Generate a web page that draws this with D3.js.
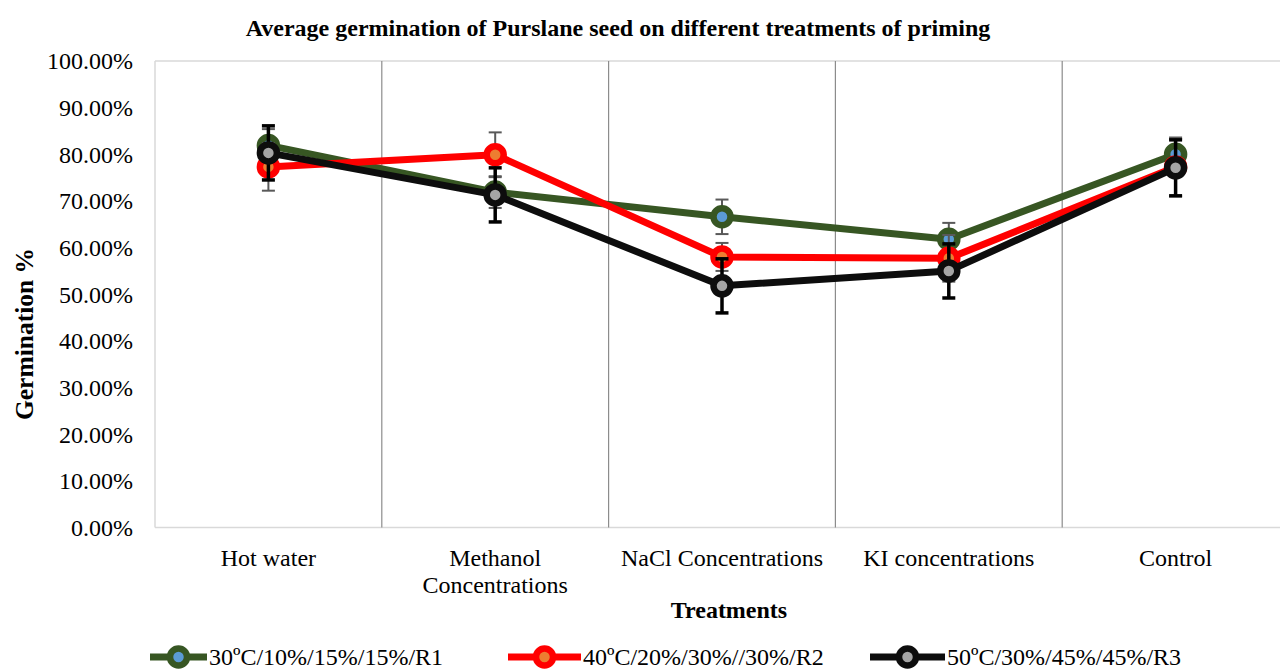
<!DOCTYPE html>
<html><head><meta charset="utf-8">
<script src="https://cdn.jsdelivr.net/npm/d3@7"></script>
<style>body{margin:0;background:#fff}svg{display:block}text{font-family:"Liberation Serif","Times New Roman",serif;fill:#000}</style>
</head><body>
<svg id="c" width="1280" height="669"></svg>
<script>
const categories = ["Hot water", "Methanol Concentrations", "NaCl Concentrations", "KI concentrations", "Control"];
const categoryLines = [["Hot water"], ["Methanol", "Concentrations"], ["NaCl Concentrations"], ["KI concentrations"], ["Control"]];
const seriesNames = ["30ºC/10%/15%/15%/R1", "40ºC/20%/30%//30%/R2", "50ºC/30%/45%/45%/R3"];
const valuesR1 = [81.9, 71.9, 66.6, 61.8, 80.0];
const valuesR2 = [77.3, 79.9, 58.0, 57.7, 77.3];
const valuesR3 = [80.3, 71.3, 51.8, 55.0, 77.1];
const errorsR1 = [3.5, 3.4, 3.7, 3.5, 3.2];
const errorsR2 = [5.1, 4.8, 3.0, 5.0, 6.3];
const errorsR3 = [5.8, 5.8, 5.8, 5.8, 6.0];
const yTicks = [0, 10, 20, 30, 40, 50, 60, 70, 80, 90, 100];

const lineColors = ["#375623", "#ff0000", "#0d0d0d"];
const dotColors = ["#5b9bd5", "#ed7d31", "#a5a5a5"];
const errColors = ["#595959", "#595959", "#000000"];
const errWidths = [2, 2, 3.5];

const series = [valuesR1, valuesR2, valuesR3].map((v, i) => ({
  name: seriesNames[i], values: v, errors: [errorsR1, errorsR2, errorsR3][i]
}));

const svg = d3.select("#c");
const L = 155, R = 1289, T = 61, B = 527.5;
const x = d3.scaleBand().domain(categories).range([L, R]);
const y = d3.scaleLinear().domain([0, 100]).range([B, T]);

// plot border
svg.append("line").attr("x1", L).attr("x2", 1280).attr("y1", T).attr("y2", T).attr("stroke", "#d9d9d9").attr("stroke-width", 1.5);
svg.append("line").attr("x1", L).attr("x2", L).attr("y1", T).attr("y2", B).attr("stroke", "#d9d9d9").attr("stroke-width", 1.5);
svg.append("line").attr("x1", L).attr("x2", 1280).attr("y1", B).attr("y2", B).attr("stroke", "#d9d9d9").attr("stroke-width", 1.5);

// vertical separators
categories.slice(1).forEach(c => {
  svg.append("line").attr("x1", x(c)).attr("x2", x(c)).attr("y1", T).attr("y2", B)
    .attr("stroke", "#8c8c8c").attr("stroke-width", 1.2);
});

// y axis labels
svg.append("g").selectAll("text").data(yTicks).join("text")
  .attr("x", 133).attr("y", d => y(d)).attr("dy", "0.35em")
  .attr("text-anchor", "end").style("font-size", "24px")
  .text(d => d3.format(".2f")(d) + "%");

// category labels
categoryLines.forEach((lines, i) => {
  const cx = x(categories[i]) + x.bandwidth() / 2;
  lines.forEach((t, j) => {
    svg.append("text").attr("x", cx).attr("y", 566 + j * 27).attr("text-anchor", "middle")
      .style("font-size", "24px").text(t);
  });
});

// titles
svg.append("text").attr("x", 618).attr("y", 36).attr("text-anchor", "middle")
  .style("font-size", "24px").style("font-weight", "bold")
  .text("Average germination of Purslane seed on different treatments of priming");
svg.append("text").attr("x", 729).attr("y", 618).attr("text-anchor", "middle")
  .style("font-size", "24px").style("font-weight", "bold").text("Treatments");
svg.append("text").attr("transform", "translate(33,334) rotate(-90)").attr("text-anchor", "middle")
  .style("font-size", "25.5px").style("font-weight", "bold").text("Germination %");

const cxOf = i => x(categories[i]) + x.bandwidth() / 2;
const line = d3.line().x((d, i) => cxOf(i)).y(d => y(d));

series.forEach((s, si) => {
  const g = svg.append("g");
  g.append("path").attr("d", line(s.values)).attr("fill", "none")
    .attr("stroke", lineColors[si]).attr("stroke-width", 7).attr("stroke-linejoin", "round");
  // error bars
  s.values.forEach((v, i) => {
    const cx = cxOf(i), e = s.errors[i];
    const y1 = y(v + e), y2 = y(v - e);
    const cap = 6.5;
    g.append("line").attr("x1", cx).attr("x2", cx).attr("y1", y1).attr("y2", y2)
      .attr("stroke", errColors[si]).attr("stroke-width", errWidths[si]);
    [y1, y2].forEach(yy => g.append("line").attr("x1", cx - cap).attr("x2", cx + cap).attr("y1", yy).attr("y2", yy)
      .attr("stroke", errColors[si]).attr("stroke-width", errWidths[si]));
  });
  // markers
  s.values.forEach((v, i) => {
    g.append("circle").attr("cx", cxOf(i)).attr("cy", y(v)).attr("r", 8.5)
      .attr("fill", dotColors[si]).attr("stroke", lineColors[si]).attr("stroke-width", 6.5);
  });
});

// legend
const legendX = [150, 508, 870];
const legendW = [57, 73, 75];
series.forEach((s, si) => {
  const lx = legendX[si], ly = 657;
  const lw = legendW[si];
  svg.append("line").attr("x1", lx).attr("x2", lx + lw).attr("y1", ly).attr("y2", ly)
    .attr("stroke", lineColors[si]).attr("stroke-width", 7);
  svg.append("circle").attr("cx", lx + lw / 2).attr("cy", ly).attr("r", 8.5)
    .attr("fill", dotColors[si]).attr("stroke", lineColors[si]).attr("stroke-width", 6.5);
  svg.append("text").attr("x", lx + lw + 2).attr("y", ly).attr("dy", "0.35em")
    .style("font-size", "24px").text(s.name);
});
</script>
</body></html>
